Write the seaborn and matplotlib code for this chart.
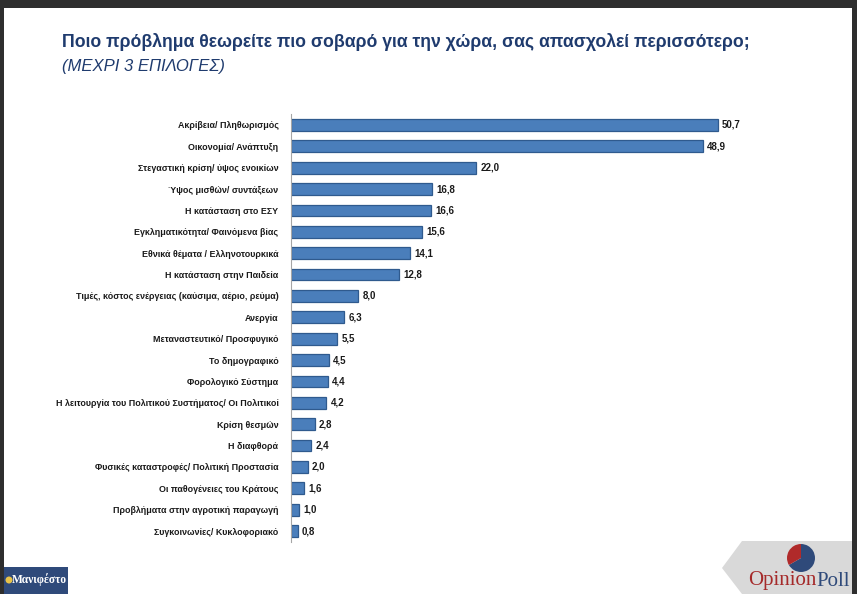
import numpy as np
import pandas as pd
import matplotlib.pyplot as plt
import matplotlib.patches as mpatches
import seaborn as sns

categories = [
    "Ακρίβεια/ Πληθωρισμός",
    "Οικονομία/ Ανάπτυξη",
    "Στεγαστική κρίση/ ύψος ενοικίων",
    "Ύψος μισθών/ συντάξεων",
    "Η κατάσταση στο ΕΣΥ",
    "Εγκληματικότητα/ Φαινόμενα βίας",
    "Εθνικά θέματα / Ελληνοτουρκικά",
    "Η κατάσταση στην Παιδεία",
    "Τιμές, κόστος ενέργειας (καύσιμα, αέριο, ρεύμα)",
    "Ανεργία",
    "Μεταναστευτικό/ Προσφυγικό",
    "Το δημογραφικό",
    "Φορολογικό Σύστημα",
    "Η λειτουργία του Πολιτικού Συστήματος/ Οι Πολιτικοί",
    "Κρίση θεσμών",
    "Η διαφθορά",
    "Φυσικές καταστροφές/ Πολιτική Προστασία",
    "Οι παθογένειες του Κράτους",
    "Προβλήματα στην αγροτική παραγωγή",
    "Συγκοινωνίες/ Κυκλοφοριακό",
]
values = [50.7, 48.9, 22.0, 16.8, 16.6, 15.6, 14.1, 12.8, 8.0, 6.3,
          5.5, 4.5, 4.4, 4.2, 2.8, 2.4, 2.0, 1.6, 1.0, 0.8]

title = "Ποιο πρόβλημα θεωρείτε πιο σοβαρό για την χώρα, σας απασχολεί περισσότερο;"
subtitle = "(ΜΕΧΡΙ 3 ΕΠΙΛΟΓΕΣ)"

df = pd.DataFrame({"Problem": categories, "Pct": values})

sns.set_style("white")
plt.rcParams['font.family'] = ['Liberation Sans', 'DejaVu Sans']

navy = "#1f3b6e"
bar_col = "#4a7ebb"
serif = ["Liberation Serif", "DejaVu Serif"]

fig = plt.figure(figsize=(8.57, 5.94), dpi=100)
fig.patch.set_facecolor("#2e2e2e")
# white slide area
fig.patches.append(mpatches.Rectangle((4 / 857, 0), 848 / 857, 586 / 594,
                                      transform=fig.transFigure,
                                      facecolor="white", edgecolor="none", zorder=-5))

ax = fig.add_axes([291 / 857, 1 - 541.7 / 594, 463 / 857, (541.7 - 114.3) / 594])
ax.set_zorder(2)
ax.patch.set_alpha(0)
sns.barplot(data=df, x="Pct", y="Problem", orient="h", color=bar_col,
            width=0.55, edgecolor="#2f5a8e", linewidth=0.9, saturation=1, ax=ax)
ax.set_xlim(0, 55)
ax.set_xlabel("")
ax.set_ylabel("")
ax.set_xticks([])
ax.tick_params(axis="y", length=0, pad=9)
for lbl in ax.get_yticklabels():
    lbl.set_fontsize(6.4)
    lbl.set_fontweight("bold")
    lbl.set_color("#1a1a1a")
for s in ["top", "right", "bottom"]:
    ax.spines[s].set_visible(False)
ax.spines["left"].set_color("#a6a6a6")
ax.spines["left"].set_linewidth(0.8)

for i, v in enumerate(values):
    ax.text(v + 0.5, i, f"{v:.1f}".replace(".", ","), va="center", ha="left",
            fontsize=7, fontweight="bold", color="#1a1a1a")

fig.text(62 / 857, 1 - 42 / 594, title, fontsize=12.7, fontweight="bold",
         color=navy, va="center", ha="left")
fig.text(62 / 857, 1 - 66 / 594, subtitle, fontsize=12, fontstyle="italic",
         color=navy, va="center", ha="left")

# bottom-left logo box
fig.patches.append(mpatches.Rectangle((4 / 857, 0), 64 / 857, 27 / 594,
                                      transform=fig.transFigure,
                                      facecolor="#2f4a7a", edgecolor="none", zorder=1))
fig.patches.append(mpatches.Ellipse((9 / 857, 1 - 580 / 594), 7 / 857, 7 / 594,
                                    transform=fig.transFigure,
                                    facecolor="#e8c34a", edgecolor="none", zorder=2))
fig.text(39 / 857, 1 - 580 / 594, "Μανιφέστο", fontsize=8.3, color="white",
         family=serif, fontweight="bold", va="center", ha="center", zorder=3)

# bottom-right logo
pent = np.array([[722, 568], [742, 541], [852, 541], [852, 594], [742, 594]], float)
pent[:, 0] /= 857
pent[:, 1] = 1 - pent[:, 1] / 594
fig.patches.append(mpatches.Polygon(pent, closed=True, transform=fig.transFigure,
                                    facecolor="#d9d9d9", edgecolor="none", zorder=1))
cx, cy, r = 801, 558, 14
circ_ax = fig.add_axes([(cx - r) / 857, 1 - (cy + r) / 594, 2 * r / 857, 2 * r / 594])
circ_ax.set_zorder(3)
circ_ax.pie([2, 1], colors=["#2f4a7a", "#b02a2a"], startangle=90, counterclock=False,
            wedgeprops={"linewidth": 0})
circ_ax.set_aspect("auto")
circ_ax.set_xlim(-1, 1)
circ_ax.set_ylim(-1, 1)
t1 = fig.text(748 / 857, 1 - 581 / 594, "Opinion", fontsize=15, color="#a52a2a",
              family=serif, va="center", ha="left", zorder=3)
circ_ax.annotate("Poll", xy=(1, 0.5), xycoords=t1, va="center", ha="left",
                 fontsize=15, color="#2f4a7a", family=serif, annotation_clip=False)

fig.savefig("out.png", dpi=100, facecolor=fig.get_facecolor())
